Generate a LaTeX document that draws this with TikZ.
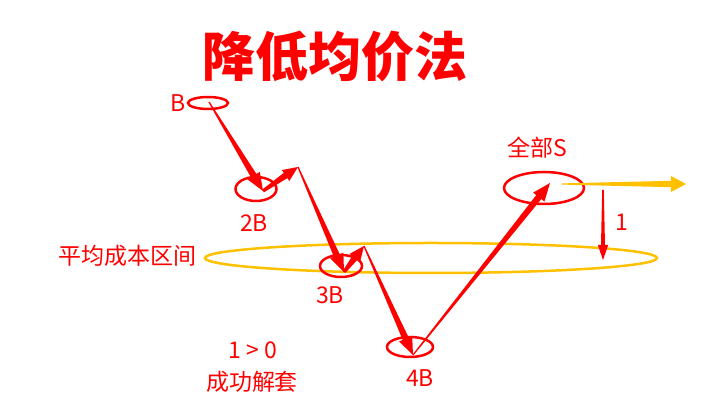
\documentclass[tikz,border=0pt]{standalone}
\usepackage{fontspec}
\setmainfont{Noto Sans CJK SC}
\usetikzlibrary{shapes.geometric, calc}

\definecolor{hotred}{RGB}{255,0,0}
\definecolor{gold}{RGB}{255,192,0}

% tapered arrow: colour, from, to, half width at start, half width before head, head length, head half width
\newcommand{\taperarrow}[7]{%
  \coordinate (hb) at ($(#3)!#6!(#2)$);
  \fill[#1] ($(#2)!#4!90:(#3)$) -- ($(hb)!#5!90:(#3)$) -- ($(hb)!#7!90:(#3)$) -- (#3)
    -- ($(hb)!#7!-90:(#3)$) -- ($(hb)!#5!-90:(#3)$) -- ($(#2)!#4!-90:(#3)$) -- cycle;}

\begin{document}
\begin{tikzpicture}[x=0.5pt, y=-0.5pt,
  oval/.style={draw=hotred, line width=1.25pt, ellipse, inner sep=0pt},
  lbl/.style={text=hotred, font=\fontsize{11.5pt}{13pt}\selectfont, inner sep=0pt},
  band/.style={draw=gold, line width=1.25pt, ellipse, inner sep=0pt}]

  \useasboundingbox (0,0) rectangle (720,416);

  % title
  \node[text=hotred, font=\fontsize{26.5pt}{30pt}\selectfont\bfseries] (title) at (335,56) {降低均价法};

  % cost band
  \node[band, minimum width=226pt, minimum height=15pt] (band) at (431,258) {};
  \node[lbl] (bandlbl) at (128,256) {平均成本区间};

  % buy / sell marks
  \node[oval, minimum width=20pt, minimum height=6pt] (e1) at (208,103) {};
  \node[oval, minimum width=20.5pt, minimum height=12pt] (e2) at (256,189) {};
  \node[oval, minimum width=21pt, minimum height=11pt] (e3) at (341,266) {};
  \node[oval, minimum width=23pt, minimum height=10pt] (e4) at (410,347) {};
  \node[oval, minimum width=40pt, minimum height=16pt] (e5) at (544,188) {};

  \node[lbl] (l1) at (178,103) {B};
  \node[lbl] (l2) at (254,223) {2B};
  \node[lbl] (l3) at (330,295) {3B};
  \node[lbl] (l4) at (420,378) {4B};
  \node[lbl] (l5) at (537,148) {全部S};
  \node[lbl] (one) at (622,222) {1};
  \node[lbl] (gain) at (253,350) {1 > 0};
  \node[lbl] (done) at (252,382) {成功解套};

  % turning points
  \coordinate (t0) at (209,102);
  \coordinate (t1) at (263,191);
  \coordinate (t2) at (298,167);
  \coordinate (t3) at (344,272);
  \coordinate (t4) at (364,246);
  \coordinate (t5) at (413,355);
  \coordinate (t6) at (550,183);
  \coordinate (s0) at (562,184);
  \coordinate (s1) at (686,184);
  \coordinate (d0) at (603,190);
  \coordinate (d1) at (603,260);

  % price path
  \taperarrow{hotred}{t0}{t1}{0.3pt}{1.6pt}{9pt}{3.6pt}
  \taperarrow{hotred}{t1}{t2}{0.8pt}{1.6pt}{7.5pt}{3.3pt}
  \taperarrow{hotred}{t2}{t3}{0.3pt}{1.6pt}{9pt}{3.6pt}
  \taperarrow{hotred}{t3}{t4}{0.8pt}{1.6pt}{7.5pt}{3.3pt}
  \taperarrow{hotred}{t4}{t5}{0.3pt}{1.6pt}{9pt}{3.6pt}
  \taperarrow{hotred}{t5}{t6}{0.3pt}{1.6pt}{9pt}{3.6pt}

  % exit and gap
  \taperarrow{gold}{s0}{s1}{0.3pt}{1.6pt}{7.5pt}{4pt}
  \taperarrow{hotred}{d0}{d1}{0.4pt}{1pt}{7.5pt}{2.6pt}

\end{tikzpicture}
\end{document}
